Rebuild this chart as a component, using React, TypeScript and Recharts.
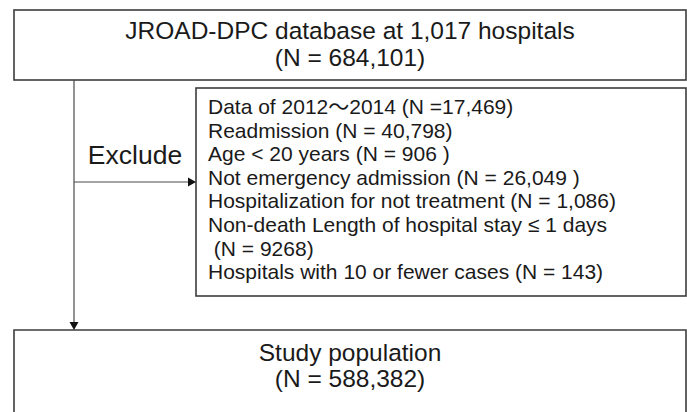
import React from "react";
import { ComposedChart, XAxis, YAxis, ReferenceArea, ReferenceLine } from "recharts";

const W = 687;
const H = 412;

// text content of the flow diagram
const sourceLines = ["JROAD-DPC database at 1,017 hospitals", "(N = 684,101)"];
const excludeLabel = "Exclude";
const exclusionLines = [
  "Data of 2012\uFF5E2014 (N =17,469)",
  "Readmission (N = 40,798)",
  "Age < 20 years (N = 906 )",
  "Not emergency admission (N = 26,049 )",
  "Hospitalization for not treatment (N = 1,086)",
  "Non-death Length of hospital stay \u2264 1 days",
  " (N = 9268)",
  "Hospitals with 10 or fewer cases (N = 143)",
];
const resultLines = ["Study population", "(N = 588,382)"];

const FONT = "'Liberation Sans', Arial, 'Noto Sans CJK JP', sans-serif";
const TEXT = "#1a1a1a";
const BORDER = "#3c3c3c";
const CONNECTOR = "#4a4a4a";

type Rect = { x: number; y: number; width: number; height: number };

const centeredBox =
  (lines: string[], size: number, first: number, step: number, openBottom = false) =>
  (p: any) => {
    const { x, y, width, height } = p as Rect;
    const cx = x + width / 2;
    return (
      <g>
        {openBottom ? (
          <path
            d={`M${x},${y + height} L${x},${y} L${x + width},${y} L${x + width},${y + height}`}
            fill="#fff"
            stroke={BORDER}
            strokeWidth={1.6}
          />
        ) : (
          <rect x={x} y={y} width={width} height={height} fill="#fff" stroke={BORDER} strokeWidth={1.6} />
        )}
        {lines.map((t, i) => (
          <text
            key={i}
            x={cx}
            y={y + first + i * step}
            textAnchor="middle"
            fontFamily={FONT}
            fontSize={size}
            fill={TEXT}
          >
            {t}
          </text>
        ))}
      </g>
    );
  };

const listBox = (p: any) => {
  const { x, y, width, height } = p as Rect;
  return (
    <g>
      <rect x={x} y={y} width={width} height={height} fill="#fff" stroke={BORDER} strokeWidth={1.6} />
      {exclusionLines.map((t, i) => (
        <text
          key={i}
          x={x + 12}
          y={y + 26 + i * 23.6}
          fontFamily={FONT}
          fontSize={21}
          fill={TEXT}
          style={{ whiteSpace: "pre" }}
        >
          {t}
        </text>
      ))}
    </g>
  );
};

const arrow = (p: any) => {
  const { x1, y1, x2, y2 } = p;
  const len = Math.hypot(x2 - x1, y2 - y1) || 1;
  const ux = (x2 - x1) / len;
  const uy = (y2 - y1) / len;
  const hl = 8;
  const hw = 4.5;
  const bx = x2 - ux * hl;
  const by = y2 - uy * hl;
  return (
    <g>
      <line x1={x1} y1={y1} x2={bx} y2={by} stroke={CONNECTOR} strokeWidth={1.2} />
      <polygon
        points={`${x2},${y2} ${bx - uy * hw},${by + ux * hw} ${bx + uy * hw},${by - ux * hw}`}
        fill="#111"
      />
    </g>
  );
};

export default function App() {
  return (
    <div style={{ position: "absolute", left: 0, top: 0, width: W, height: H, background: "#fff" }}>
      <ComposedChart width={W} height={H} margin={{ top: 0, right: 0, bottom: 0, left: 0 }} data={[]}>
        <XAxis type="number" dataKey="x" domain={[0, W]} hide allowDataOverflow />
        <YAxis type="number" dataKey="y" domain={[0, H]} reversed hide allowDataOverflow />

        <ReferenceLine
          segment={[{ x: 74, y: 80 }, { x: 74, y: 330 }]}
          shape={arrow}
          ifOverflow="visible"
        />
        <ReferenceLine
          segment={[{ x: 74, y: 182 }, { x: 196, y: 182 }]}
          shape={arrow}
          ifOverflow="visible"
        />

        <ReferenceArea
          x1={14}
          x2={686}
          y1={10}
          y2={80}
          ifOverflow="visible"
          shape={centeredBox(sourceLines, 24.5, 29, 27)}
        />
        <ReferenceArea x1={196} x2={686} y1={88} y2={296} ifOverflow="visible" shape={listBox} />
        <ReferenceArea
          x1={14}
          x2={686}
          y1={330}
          y2={420}
          ifOverflow="visible"
          shape={centeredBox(resultLines, 24.5, 31, 26, true)}
        />

        <ReferenceArea
          x1={80}
          x2={190}
          y1={135}
          y2={170}
          ifOverflow="visible"
          shape={(p: any) => (
            <text
              x={p.x + p.width / 2}
              y={164}
              textAnchor="middle"
              fontFamily={FONT}
              fontSize={26.5}
              fill={TEXT}
            >
              {excludeLabel}
            </text>
          )}
        />
      </ComposedChart>
    </div>
  );
}
